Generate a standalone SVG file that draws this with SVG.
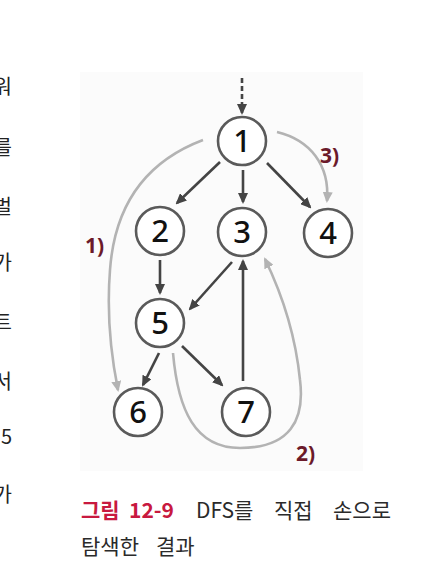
<svg xmlns="http://www.w3.org/2000/svg" width="430" height="580" viewBox="0 0 430 580">
<style>
.bg{fill:#fbfbfb}
.node circle{fill:#ffffff;stroke:#5a5a5a;stroke-width:2.6}
.node text{font-family:"Noto Sans","DejaVu Sans",sans-serif;font-size:31px;font-weight:500;fill:#111;text-anchor:middle}
.dark{fill:none;stroke:#444;stroke-width:2.6}
.light{fill:none;stroke:#b3b3b3;stroke-width:2.6}
.lbl{font-family:"Noto Sans","DejaVu Sans",sans-serif;font-size:21px;font-weight:bold;fill:#6b1a2a}
.side{font-family:"Noto Sans CJK KR","Noto Sans",sans-serif;font-size:20px;fill:#222;text-anchor:end}
.cap{font-family:"Noto Sans CJK KR","Noto Sans",sans-serif;font-size:21px;fill:#2a2a2a}
.capr{font-family:"Noto Sans CJK KR","Noto Sans",sans-serif;font-size:21px;fill:#c8193f;font-weight:bold}
</style>
<defs>
<marker id="ad" markerUnits="userSpaceOnUse" markerWidth="11" markerHeight="10" refX="9" refY="5" orient="auto"><path d="M0,0 L11,5 L0,10 z" fill="#444"/></marker>
<marker id="al" markerUnits="userSpaceOnUse" markerWidth="11" markerHeight="10" refX="9" refY="5" orient="auto"><path d="M0,0 L11,5 L0,10 z" fill="#b3b3b3"/></marker>
</defs>
<g id="page-text">
<text class="side" x="12" y="94">워</text>
<text class="side" x="12" y="155">를</text>
<text class="side" x="12" y="214">벌</text>
<text class="side" x="12" y="270">가</text>
<text class="side" x="12" y="330">트</text>
<text class="side" x="12" y="389">서</text>
<text class="side" x="12" y="444">5</text>
<text class="side" x="12" y="502">가</text>
</g>
<rect class="bg" x="80" y="72" width="283" height="399"/>
<g id="connectors">
<path class="dark" d="M242,78 L242,113" stroke-dasharray="5,3" marker-end="url(#ad)"/>
<path class="dark" d="M220,162 L177,203" marker-end="url(#ad)"/>
<path class="dark" d="M243,170 L243,202" marker-end="url(#ad)"/>
<path class="dark" d="M267,163 L310,207" marker-end="url(#ad)"/>
<path class="dark" d="M160,260 L160,293" marker-end="url(#ad)"/>
<path class="dark" d="M232,262 L190,309" marker-end="url(#ad)"/>
<path class="dark" d="M243,381 L243,261" marker-end="url(#ad)"/>
<path class="dark" d="M159,353 L143,385" marker-end="url(#ad)"/>
<path class="dark" d="M182,346 L222,385" marker-end="url(#ad)"/>
<path class="light" d="M203,140 C150,160 115,200 110,270 C106,320 112,360 118,390" marker-end="url(#al)"/>
<path class="light" d="M173,353 C178,410 195,448 240,448 C290,448 305,420 300,380 C295,330 280,290 265,259" marker-end="url(#al)"/>
<path class="light" d="M277,132 C310,140 330,165 327,201" marker-end="url(#al)"/>
<text class="lbl" x="85" y="253">1)</text>
<text class="lbl" x="320" y="163">3)</text>
<text class="lbl" x="296" y="461">2)</text>
</g>
<g id="n1" class="node"><circle cx="242" cy="141" r="24"/><text x="242" y="152">1</text></g>
<g id="n2" class="node"><circle cx="160" cy="231" r="24"/><text x="160" y="242">2</text></g>
<g id="n3" class="node"><circle cx="242" cy="232" r="24"/><text x="242" y="243">3</text></g>
<g id="n4" class="node"><circle cx="328" cy="233" r="24"/><text x="328" y="244">4</text></g>
<g id="n5" class="node"><circle cx="160" cy="323" r="24"/><text x="160" y="334">5</text></g>
<g id="n6" class="node"><circle cx="138" cy="412" r="24"/><text x="138" y="423">6</text></g>
<g id="n7" class="node"><circle cx="246" cy="412" r="24"/><text x="246" y="423">7</text></g>
<g id="caption">
<text class="capr" x="81" y="518">그림</text>
<text class="capr" x="129" y="518">12-9</text>
<text class="cap" x="196" y="518">DFS를</text>
<text class="cap" x="274" y="518">직접</text>
<text class="cap" x="333" y="518">손으로</text>
<text class="cap" x="81" y="554">탐색한</text>
<text class="cap" x="156" y="554">결과</text>
</g>
</svg>
